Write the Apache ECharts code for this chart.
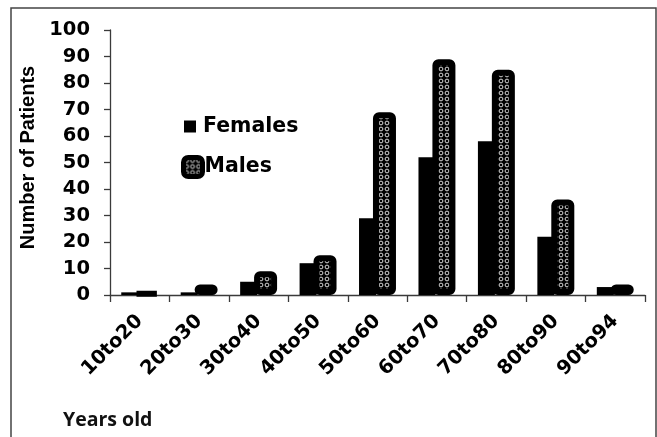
<!DOCTYPE html>
<html>
<head>
<meta charset="utf-8">
<script src="https://cdn.jsdelivr.net/npm/echarts@6/dist/echarts.min.js"></script>
<style>
  html, body { margin: 0; padding: 0; background: #fff; }
  #chart { width: 657px; height: 437px; }
</style>
</head>
<body>
<div id="chart"></div>
<script>
// Age groups and patient counts per sex
const ageGroups = ['10to20', '20to30', '30to40', '40to50', '50to60', '60to70', '70to80', '80to90', '90to94'];
const females = [1, 1, 5, 12, 29, 52, 58, 22, 3];
const males = [1, 4, 9, 15, 69, 89, 85, 36, 4];
const yTicks = { min: 0, max: 100, step: 10 };

// Small ring tile used as the fill of the male bars
function ringTile() {
  const c = document.createElement('canvas');
  c.width = 6; c.height = 6;
  const g = c.getContext('2d');
  g.fillStyle = '#000';
  g.fillRect(0, 0, 6, 6);
  g.strokeStyle = '#d8d8d8';
  g.lineWidth = 1;
  g.beginPath();
  g.arc(3, 3, 1.9, 0, Math.PI * 2);
  g.stroke();
  return c;
}
const malePattern = { image: ringTile(), repeat: 'repeat' };

const chart = echarts.init(document.getElementById('chart'), null, { renderer: 'canvas' });

const labelFont = 'DejaVu Sans';
const axisColor = '#3a3a3a';

chart.setOption({
  backgroundColor: '#fff',
  animation: false,
  title: {
    text: 'Years old',
    left: 58,
    top: 405,
    textStyle: { fontFamily: 'Open Sans', fontWeight: 'bold', fontSize: 19.5, color: '#111' }
  },
  graphic: [{
    type: 'rect',
    shape: { x: 11, y: 8, width: 645, height: 440 },
    style: { fill: 'none', stroke: '#444', lineWidth: 1.5 },
    silent: true
  }],
  legend: [{
    data: ['Females'],
    orient: 'vertical',
    left: 179,
    top: 111,
    itemWidth: 12,
    itemHeight: 12,
    itemGap: 0,
    icon: 'rect',
    textStyle: { fontFamily: labelFont, fontWeight: 'bold', fontSize: 20.5, color: '#000', padding: [0, 0, 0, 2] },
    selectedMode: false
  }, {
    data: [{ name: 'Males', itemStyle: { color: malePattern, borderColor: '#000', borderWidth: 5 } }],
    orient: 'vertical',
    left: 176,
    top: 150,
    itemWidth: 19,
    itemHeight: 19,
    icon: 'roundRect',
    itemGap: 0,
    textStyle: { fontFamily: labelFont, fontWeight: 'bold', fontSize: 20.5, color: '#000', padding: [0, 0, 0, -3] },
    selectedMode: false
  }],
  grid: { left: 110, right: 12, top: 30, bottom: 142, containLabel: false },
  xAxis: {
    type: 'category',
    data: ageGroups,
    axisLine: { lineStyle: { color: axisColor, width: 1.3 } },
    axisTick: { show: true, length: 7, inside: false, lineStyle: { color: axisColor, width: 1.3 } },
    axisLabel: {
      rotate: 45,
      margin: 23,
      interval: 0,
      padding: [32, 0, 0, 0],
      fontFamily: labelFont,
      fontWeight: 'bold',
      fontSize: 19.5,
      color: '#000'
    },
    splitLine: { show: false }
  },
  yAxis: {
    type: 'value',
    min: yTicks.min,
    max: yTicks.max,
    interval: yTicks.step,
    name: 'Number of Patients',
    nameLocation: 'middle',
    nameGap: 66,
    nameTextStyle: { fontFamily: 'Liberation Sans', fontWeight: 'bold', fontSize: 20, color: '#000', padding: [0, 0, 0, 10] },
    axisLine: { show: true, lineStyle: { color: axisColor, width: 1.3 } },
    axisTick: { show: true, length: 6, lineStyle: { color: axisColor, width: 1.3 } },
    axisLabel: { margin: 20, fontFamily: labelFont, fontWeight: 'bold', fontSize: 19.5, color: '#000' },
    splitLine: { show: false }
  },
  series: [{
    name: 'Females',
    type: 'bar',
    data: females,
    barWidth: 17,
    barGap: '-18%',
    itemStyle: { color: '#000' }
  }, {
    name: 'Males',
    type: 'bar',
    data: males,
    barWidth: 23,
    itemStyle: { color: malePattern, borderColor: '#000', borderWidth: 6, borderRadius: 3 }
  }]
});
</script>
</body>
</html>
